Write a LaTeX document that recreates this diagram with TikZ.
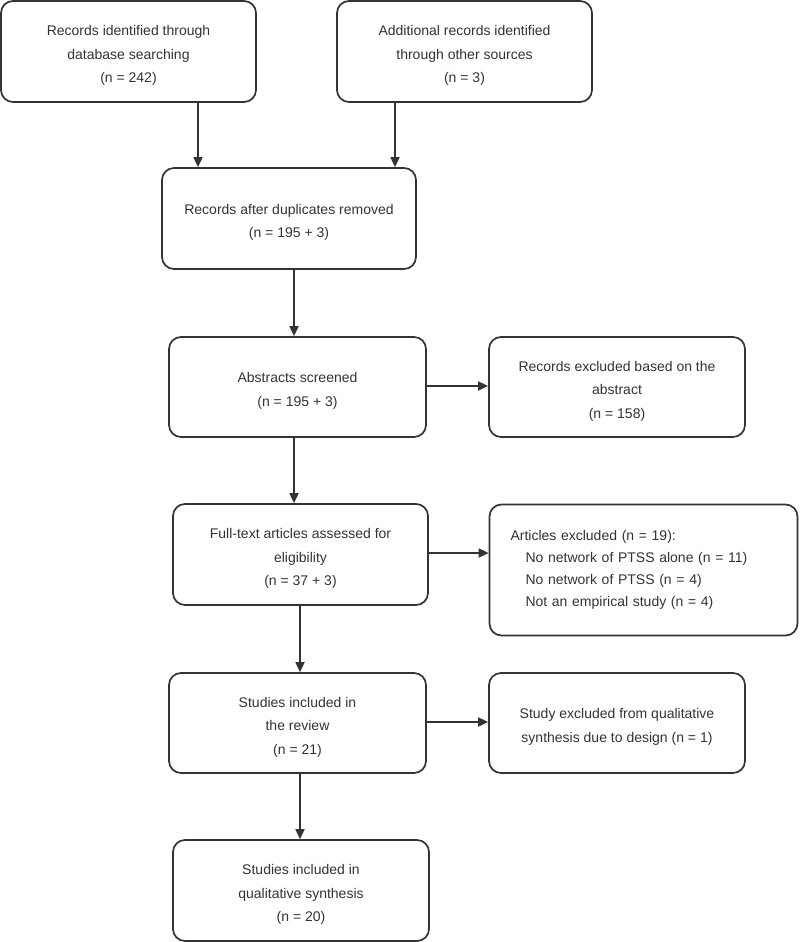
\documentclass[tikz,border=0pt]{standalone}
\usepackage{fontspec}
\setmainfont{Liberation Sans}
\usetikzlibrary{arrows.meta}
\definecolor{ink}{HTML}{333333}
\begin{document}
\begin{tikzpicture}[x=1pt,y=-1pt,
  box/.style={draw=ink, line width=1.7pt, rounded corners=12pt, rectangle,
    text=ink, align=center, inner sep=0pt,
    font=\fontsize{14}{23.5}\selectfont},
  arr/.style={draw=ink, line width=1.7pt, -{Triangle[length=10pt,width=9pt]}}]
\useasboundingbox (0,0) rectangle (800,942);
\fill[white] (0,0) rectangle (800,942);

\node[box, minimum width=255pt, minimum height=101pt] (b1) at (128.5,51.5)
  {\rule{0pt}{18pt}Records identified through\\database searching\\(n = 242)};
\node[box, minimum width=255pt, minimum height=101pt] (b2) at (464.5,51.5)
  {\rule{0pt}{18pt}Additional records identified\\through other sources\\(n = 3)};
\node[box, minimum width=254pt, minimum height=101pt] (b3) at (289,218.5)
  {\rule{0pt}{18pt}Records after duplicates removed\\(n = 195 + 3)};
\node[box, minimum width=257pt, minimum height=100pt] (b4) at (297.5,387)
  {\rule{0pt}{18pt}Abstracts screened\\(n = 195 + 3)};
\node[box, minimum width=256pt, minimum height=100pt] (b5) at (617,387)
  {\rule{0pt}{18pt}Records excluded based on the\\abstract\\(n = 158)};
\node[box, minimum width=255pt, minimum height=101pt] (b6) at (300.5,554.5)
  {\rule{0pt}{18pt}Full-text articles assessed for\\eligibility\\(n = 37 + 3)};
\node[box, minimum width=308pt, minimum height=131pt, align=left,
  text width=266pt, inner xsep=21pt, font=\fontsize{14}{22}\selectfont] (b7) at (643.5,570)
  {Articles excluded (n = 19):\\
   \hspace*{15pt}No network of PTSS alone (n = 11)\\
   \hspace*{15pt}No network of PTSS (n = 4)\\
   \hspace*{15pt}Not an empirical study (n = 4)};
\node[box, minimum width=257pt, minimum height=100pt] (b8) at (297.5,723)
  {\rule{0pt}{18pt}Studies included in\\the review\\(n = 21)};
\node[box, minimum width=256pt, minimum height=100pt] (b9) at (617,723)
  {\rule{0pt}{18pt}Study excluded from qualitative\\synthesis due to design (n = 1)};
\node[box, minimum width=256pt, minimum height=101pt] (b10) at (301,890.5)
  {\rule{0pt}{18pt}Studies included in\\qualitative synthesis\\(n = 20)};

\coordinate (xa) at (198,0);
\coordinate (xb) at (395,0);
\coordinate (xc) at (294,0);
\coordinate (xd) at (300,0);
\coordinate (ya) at (0,386);
\coordinate (yb) at (0,553);
\coordinate (yc) at (0,722);
\draw[arr] (xa |- b1.south) -- (xa |- b3.north);
\draw[arr] (xb |- b2.south) -- (xb |- b3.north);
\draw[arr] (xc |- b3.south) -- (xc |- b4.north);
\draw[arr] (b4.east |- ya) -- (b5.west |- ya);
\draw[arr] (xc |- b4.south) -- (xc |- b6.north);
\draw[arr] (b6.east |- yb) -- (b7.west |- yb);
\draw[arr] (xd |- b6.south) -- (xd |- b8.north);
\draw[arr] (b8.east |- yc) -- (b9.west |- yc);
\draw[arr] (xd |- b8.south) -- (xd |- b10.north);
\end{tikzpicture}
\end{document}
